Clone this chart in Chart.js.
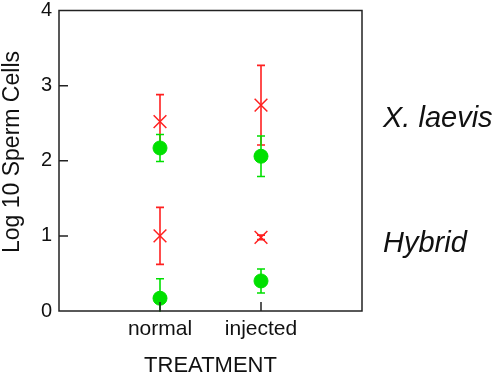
<!DOCTYPE html>
<html>
<head>
<meta charset="utf-8">
<script src="https://cdn.jsdelivr.net/npm/chart.js@4"></script>
<style>
  html, body { margin: 0; padding: 0; background: #fff; }
  #wrap { width: 498px; height: 375px; }
</style>
</head>
<body>
<div id="wrap"><canvas id="spermChart" width="498" height="375"></canvas></div>
<script>
// categories on the x axis
const treatments = ['normal', 'injected'];
const yTicks = [0, 1, 2, 3, 4];

// red crosses (mean and half error)
const redLaevis = [2.52, 2.74];
const redLaevisErr = [0.36, 0.53];
const redHybrid = [1.00, 0.98];
const redHybridErr = [0.38, 0.03];

// green dots
const greenLaevis = [2.17, 2.06];
const greenLaevisErr = [0.18, 0.27];
const greenHybrid = [0.17, 0.40];
const greenHybridErr = [0.26, 0.16];

const groupLabels = ['X. laevis', 'Hybrid'];
const groupLabelY = [2.55, 0.89];

const RED = '#ff2020';
const GREEN = '#00e000';
const FONT = 'Arial, "Liberation Sans", sans-serif';

function pts(vals, errs) {
  return vals.map((v, i) => ({ x: i + 1, y: v, err: errs[i] }));
}

// error bars, frame, inward ticks, axis titles and the side labels
const decor = {
  id: 'decor',
  beforeDatasetsDraw(chart) {
    const ctx = chart.ctx;
    const xs = chart.scales.x, ys = chart.scales.y;
    const area = chart.chartArea;
    ctx.save();
    ctx.beginPath();
    ctx.rect(area.left, area.top, area.right - area.left, area.bottom - area.top + 1);
    ctx.clip();
    chart.data.datasets.forEach(ds => {
      ctx.strokeStyle = ds.borderColor;
      ctx.lineWidth = 1.6;
      ds.data.forEach(p => {
        const x = xs.getPixelForValue(p.x);
        const yTop = ys.getPixelForValue(p.y + p.err);
        const yBot = ys.getPixelForValue(p.y - p.err);
        ctx.beginPath();
        ctx.moveTo(x, yTop); ctx.lineTo(x, yBot);
        ctx.moveTo(x - 4, yTop); ctx.lineTo(x + 4, yTop);
        ctx.moveTo(x - 4, yBot); ctx.lineTo(x + 4, yBot);
        ctx.stroke();
      });
    });
    ctx.restore();
  },
  afterDraw(chart) {
    const ctx = chart.ctx;
    const xs = chart.scales.x, ys = chart.scales.y;
    const a = chart.chartArea;
    ctx.save();
    ctx.strokeStyle = '#222';
    ctx.lineWidth = 1.5;
    ctx.strokeRect(a.left, a.top, a.right - a.left, a.bottom - a.top);
    ctx.beginPath();
    [1, 2, 3].forEach(v => {
      const y = ys.getPixelForValue(v);
      ctx.moveTo(a.left, y); ctx.lineTo(a.left + 9, y);
    });
    treatments.forEach((t, i) => {
      const x = xs.getPixelForValue(i + 1);
      ctx.moveTo(x, a.bottom); ctx.lineTo(x, a.bottom - 9);
    });
    ctx.stroke();

    ctx.fillStyle = '#111';
    ctx.textAlign = 'center';
    ctx.textBaseline = 'middle';
    ctx.font = '22px ' + FONT;
    ctx.fillText('TREATMENT', (a.left + a.right) / 2, 366);
    ctx.save();
    ctx.translate(13, 152);
    ctx.rotate(-Math.PI / 2);
    ctx.font = '23px ' + FONT;
    ctx.fillText('Log 10 Sperm Cells', 0, 0);
    ctx.restore();

    ctx.font = 'italic 29px ' + FONT;
    ctx.textAlign = 'left';
    groupLabels.forEach((lab, i) => {
      ctx.fillText(lab, 383, ys.getPixelForValue(groupLabelY[i]));
    });
    ctx.restore();
  }
};

new Chart(document.getElementById('spermChart'), {
  type: 'scatter',
  data: {
    datasets: [
      { data: pts(redLaevis, redLaevisErr), borderColor: RED, backgroundColor: RED,
        pointStyle: 'crossRot', pointRadius: 9, borderWidth: 1.5 },
      { data: pts(redHybrid, redHybridErr), borderColor: RED, backgroundColor: RED,
        pointStyle: 'crossRot', pointRadius: 9, borderWidth: 1.5 },
      { data: pts(greenLaevis, greenLaevisErr), borderColor: GREEN, backgroundColor: GREEN,
        pointStyle: 'circle', pointRadius: 7, borderWidth: 1 },
      { data: pts(greenHybrid, greenHybridErr), borderColor: GREEN, backgroundColor: GREEN,
        pointStyle: 'circle', pointRadius: 7, borderWidth: 1 }
    ]
  },
  options: {
    responsive: false,
    animation: false,
    layout: { padding: { left: 0, top: 10, right: 136, bottom: 0 } },
    plugins: { legend: { display: false }, tooltip: { enabled: false } },
    scales: {
      x: {
        type: 'linear', min: 0, max: 3,
        afterBuildTicks: s => { s.ticks = treatments.map((t, i) => ({ value: i + 1 })); },
        afterFit: s => { s.height = 64; s.paddingLeft = 0; s.paddingRight = 0; },
        grid: { display: false, drawTicks: false },
        border: { display: false },
        ticks: {
          padding: 6,
          color: '#111',
          font: { family: FONT, size: 21 },
          callback: v => treatments[v - 1] || ''
        }
      },
      y: {
        min: 0, max: 4,
        afterBuildTicks: s => { s.ticks = yTicks.map(v => ({ value: v })); },
        afterFit: s => { s.width = 59; s.paddingTop = 0; s.paddingBottom = 0; },
        grid: { display: false, drawTicks: false },
        border: { display: false },
        ticks: { padding: 7, color: '#111', font: { family: FONT, size: 20 } }
      }
    }
  },
  plugins: [decor]
});
</script>
</body>
</html>
